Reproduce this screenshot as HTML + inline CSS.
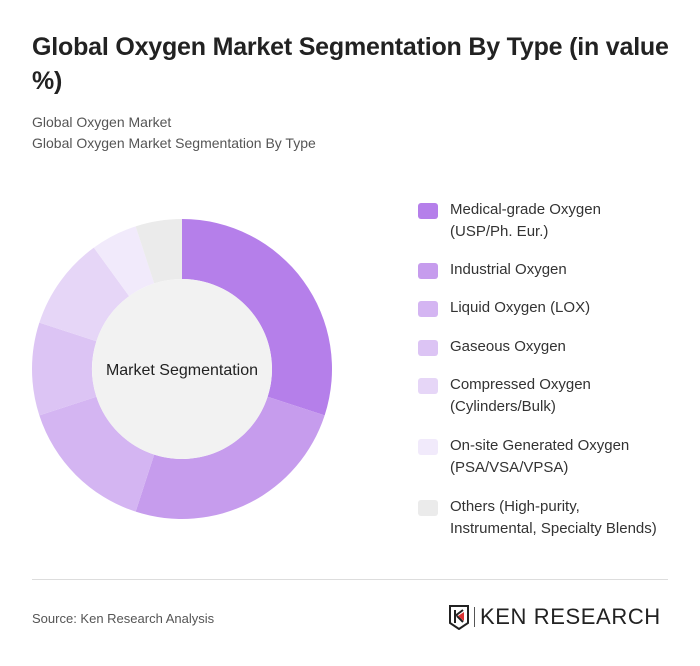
<!DOCTYPE html>
<html><head><meta charset="utf-8"><style>
body{margin:0;background:#fff;font-family:"Liberation Sans",sans-serif;}
#card{position:relative;width:700px;height:666px;background:#fff;overflow:hidden}
h1{position:absolute;left:32px;top:30px;margin:0;width:660px;font-size:25px;line-height:34px;font-weight:bold;color:#222;letter-spacing:-0.2px;white-space:nowrap}
.sub{position:absolute;left:32px;font-size:14px;color:#555}
.leg{position:absolute;left:418px;font-size:15px;line-height:22px;color:#333}
.sw{position:absolute;left:0;top:4px;width:20px;height:16px;border-radius:3px}
.lt{position:absolute;left:32px;top:0;white-space:nowrap}
</style></head><body>
<div id="card">
<h1>Global Oxygen Market Segmentation By Type (in value<br>%)</h1>
<div class="sub" style="top:114px">Global Oxygen Market</div>
<div class="sub" style="top:135px">Global Oxygen Market Segmentation By Type</div>
<svg id="donut" width="700" height="666" style="position:absolute;left:0;top:0"></svg>
<div id="legend"></div>
<div style="position:absolute;left:32px;top:579px;width:636px;height:1px;background:#ddd"></div>
<div class="sub" style="top:611px;font-size:13px;color:#555">Source: Ken Research Analysis</div>
<div style="position:absolute;left:448px;top:604px;height:26px;width:222px">
<svg width="22" height="26" style="position:absolute;left:0;top:0"><path d="M2 2h18v17l-9 6-9-6z" fill="none" stroke="#222" stroke-width="2"/><path d="M7 6v13M7 12l8-6M9 12l6 6" stroke="#222" stroke-width="2" fill="none"/><path d="M10 12l6-4v9z" fill="#d33"/></svg>
<div style="position:absolute;left:26px;top:3px;width:1px;height:20px;background:#555"></div>
<div style="position:absolute;left:32px;top:0px;font-size:22px;letter-spacing:0.6px;color:#222;white-space:nowrap">KEN RESEARCH</div>
</div>
</div>
<script>
const categories=["Medical-grade Oxygen|(USP/Ph. Eur.)","Industrial Oxygen","Liquid Oxygen (LOX)","Gaseous Oxygen","Compressed Oxygen|(Cylinders/Bulk)","On-site Generated Oxygen|(PSA/VSA/VPSA)","Others (High-purity,|Instrumental, Specialty Blends)"];
const values=[30,25,15,10,10,5,5];
const colors=["#b57fea","#c69ced","#d4b5f2","#dcc4f4","#e6d6f7","#f1eafb","#ebebeb"];
const cx=182,cy=369,R=150,r=90;
const svg=document.getElementById('donut');const NS="http://www.w3.org/2000/svg";
const total=values.reduce((a,b)=>a+b,0);
function pt(a,rad){return [cx+rad*Math.sin(a),cy-rad*Math.cos(a)];}
let acc=0;
values.forEach((v,i)=>{
 const a0=acc/total*2*Math.PI;acc+=v;const a1=acc/total*2*Math.PI;
 const lg=(a1-a0)>Math.PI?1:0;
 const p0=pt(a0,R),p1=pt(a1,R),q1=pt(a1,r),q0=pt(a0,r);
 const p=document.createElementNS(NS,'path');
 p.setAttribute('d',`M${p0}A${R},${R} 0 ${lg} 1 ${p1}L${q1}A${r},${r} 0 ${lg} 0 ${q0}Z`);
 p.setAttribute('fill',colors[i]);
 
 
 svg.appendChild(p);
});
const c=document.createElementNS(NS,'circle');c.setAttribute('cx',cx);c.setAttribute('cy',cy);c.setAttribute('r',r);c.setAttribute('fill','#f2f2f2');


svg.appendChild(c);
const t=document.createElementNS(NS,'text');t.setAttribute('x',cx);t.setAttribute('y',cy+6);t.setAttribute('text-anchor','middle');t.setAttribute('font-size','16');t.setAttribute('fill','#222');t.setAttribute('font-family','Liberation Sans, sans-serif');t.textContent='Market Segmentation';


svg.appendChild(t);
const lg=document.getElementById('legend');
const tops=[199,259,297,336,374,435,496];
categories.forEach((cat,i)=>{
 const d=document.createElement('div');d.className='leg';d.style.top=tops[i]+'px';
 
 
 d.innerHTML=`<div class="sw" style="background:${colors[i]}"></div><div class="lt">${cat.split('|').join('<br>')}</div>`;
 lg.appendChild(d);
});
</script>
</body></html>
